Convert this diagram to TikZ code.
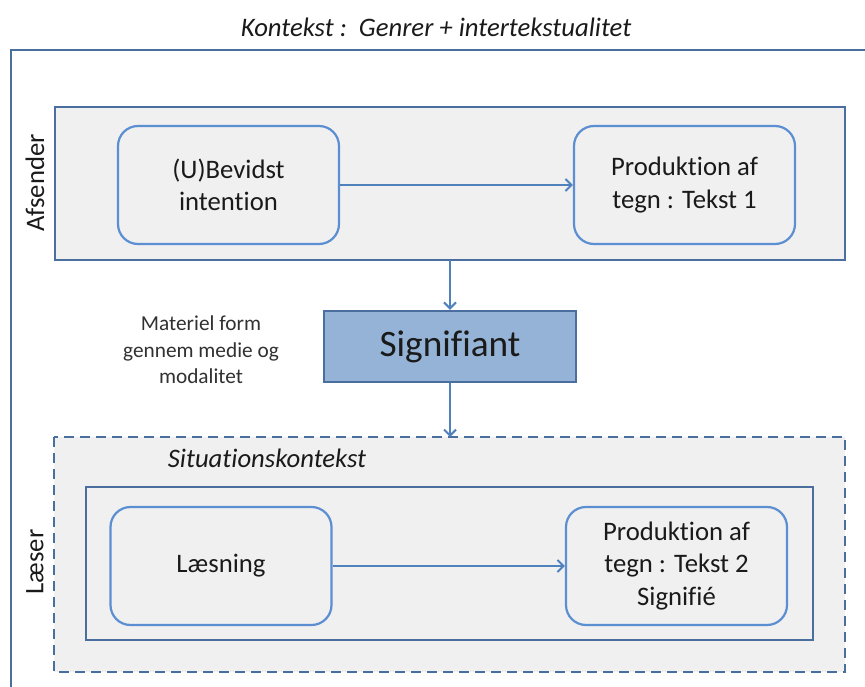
\documentclass[tikz,border=0pt]{standalone}
\usepackage{fontspec}
\setmainfont[Ligatures={NoCommon}]{Carlito}
\usetikzlibrary{arrows.meta}
\definecolor{frameblue}{HTML}{4A6E9E}
\definecolor{roundblue}{HTML}{5B8FD2}
\definecolor{arrowblue}{HTML}{4F81BD}
\definecolor{signfill}{HTML}{95B3D7}
\definecolor{panel}{HTML}{F0F0F0}
\definecolor{ink}{HTML}{1A1A1A}
\tikzset{
  panelbox/.style={draw=frameblue, line width=2.4pt, fill=panel},
  stepbox/.style={draw=roundblue, line width=2.2pt, fill=panel, rounded corners=20pt,
    minimum width=221pt, minimum height=118pt, inner sep=0pt, align=center,
    text=ink, font=\fontsize{26.7}{32.6}\selectfont},
  flow/.style={draw=arrowblue, line width=2pt, -{Straight Barb[length=6pt,width=12pt,line width=2pt]}},
  sidelabel/.style={rotate=90, text=ink, font=\fontsize{26.7}{32.6}\selectfont},
}
\begin{document}
\begin{tikzpicture}[x=1pt,y=-1pt]
\useasboundingbox (0,0) rectangle (865,687);
\begin{scope}
\clip (0,0) rectangle (865,687);
% outer context frame, running past the page edges
\draw[frameblue, line width=2.6pt] (11,700) -- (11,50) -- (880,50);

% sender panel
\draw[panelbox] (55,107) rectangle (845,260);
\node[sidelabel] (afs) at (35,183) {Afsender};
\node[stepbox] (intent) at (228.5,185) {(U)Bevidst\\intention};
\node[stepbox] (prod1) at (684.5,185) {Produktion af\\tegn : Tekst 1};
\draw[flow] (intent.east) -- (prod1.west);

% signifier
\node[draw=frameblue, line width=2.4pt, fill=signfill, minimum width=252pt, minimum height=71pt,
  inner sep=0pt, text=ink, font=\fontsize{37.3}{44}\selectfont] (sig) at (450,346.5) {Signifiant};
\node[align=center, text=ink!90, font=\fontsize{21.3}{26.5}\selectfont] (mat) at (201,350)
  {Materiel form\\gennem medie og\\modalitet};

% reader panel with situational context
\draw[panelbox, dash pattern=on 10pt off 6pt] (54,437) rectangle (845,672);
\coordinate (sitTop) at (450,437);
\node[text=ink, font=\fontsize{26.7}{32.6}\selectfont\itshape] (sit) at (267,458) {Situationskontekst};
\draw[frameblue, line width=2.4pt] (86,487) rectangle (813,640);
\node[sidelabel] (laes) at (35,562) {Læser};
\node[stepbox] (read) at (221,566) {Læsning};
\node[stepbox] (prod2) at (676.5,566) {Produktion af\\tegn : Tekst 2\\Signifié};
\draw[flow] (read.east) -- (prod2.west);

% vertical flow
\coordinate (afsBottom) at (450,260);
\draw[flow] (afsBottom) -- (sig.north);
\draw[flow] (sig.south) -- (sitTop);

% title
\node[text=ink, font=\fontsize{26.7}{32.6}\selectfont\itshape] (title) at (436,27)
  {Kontekst :\ \ Genrer + intertekstualitet};
\end{scope}
\end{tikzpicture}
\end{document}
